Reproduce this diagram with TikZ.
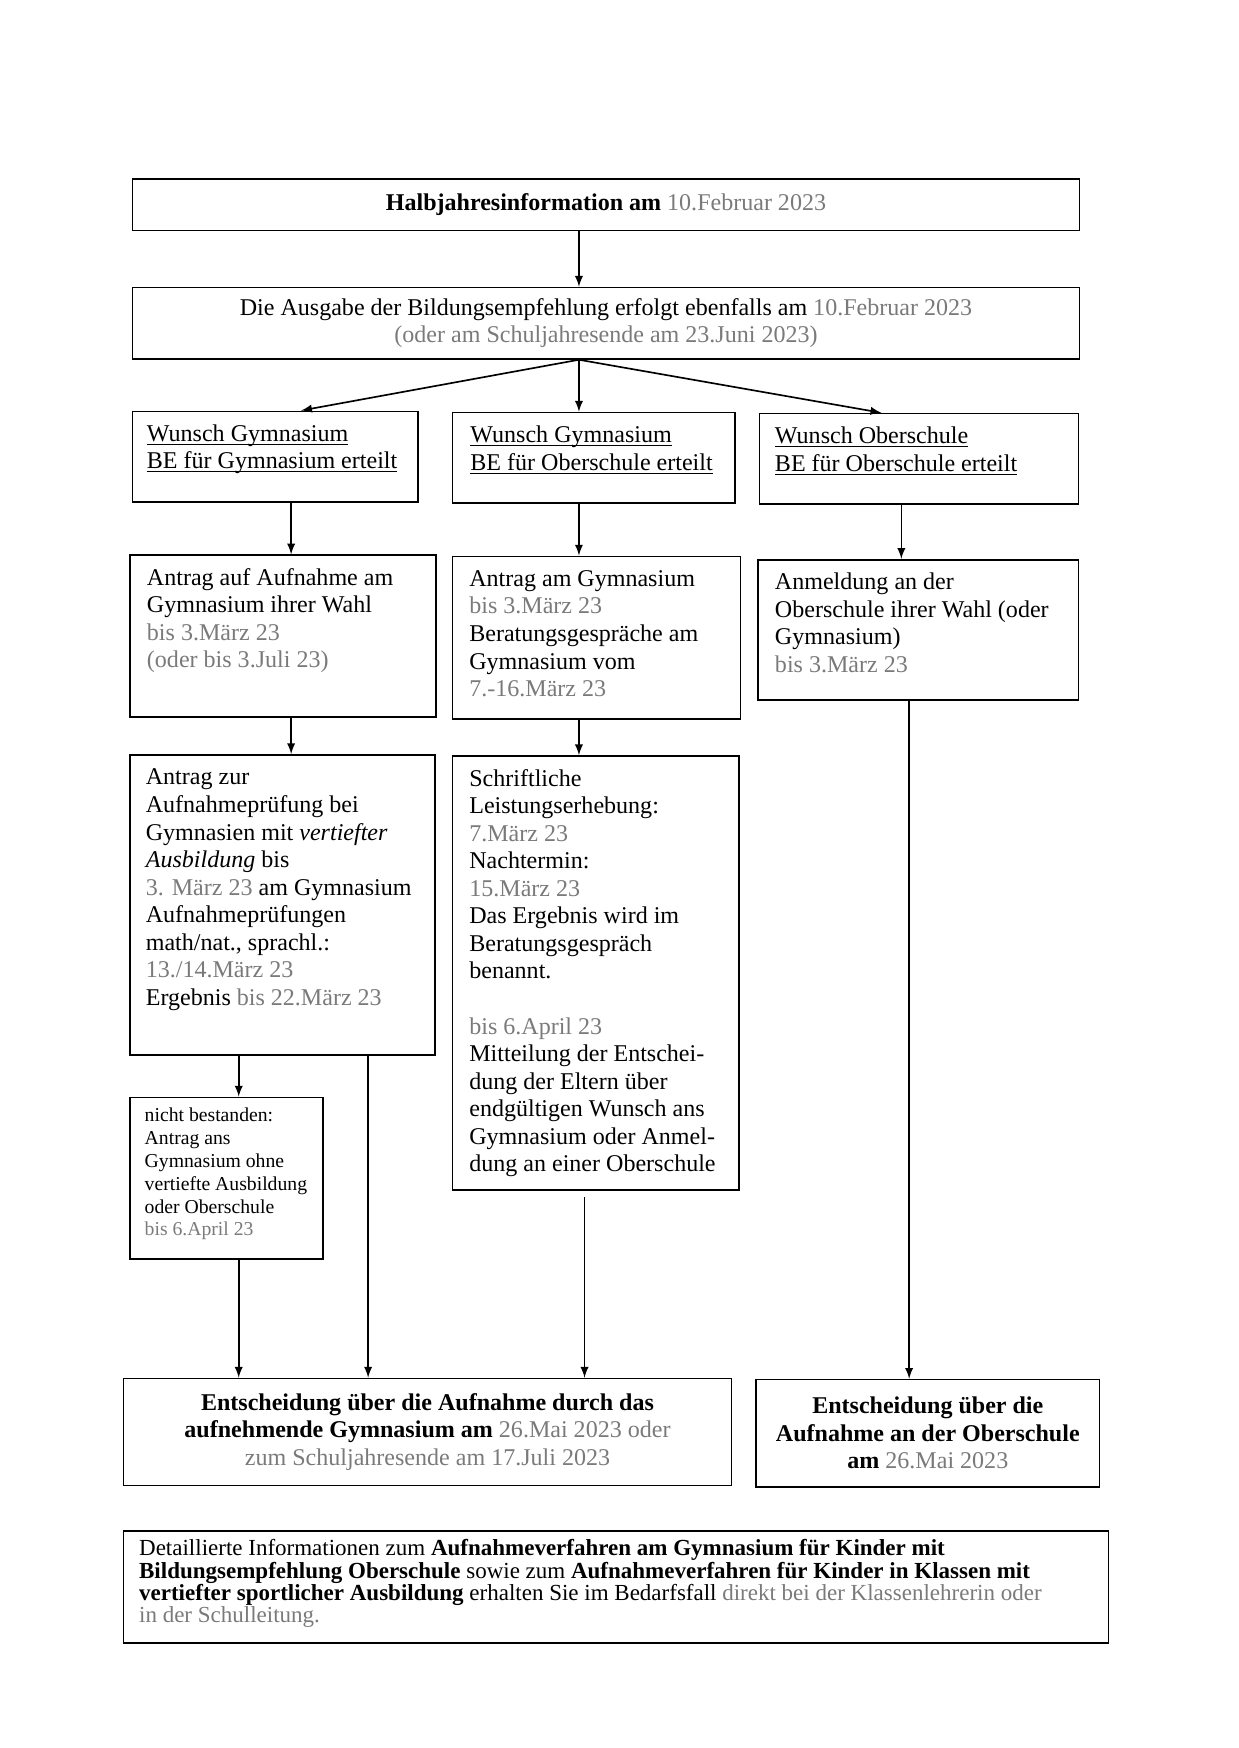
\documentclass[tikz,border=0pt]{standalone}
\usepackage{fontspec}
\setmainfont{Liberation Serif}
\usepackage{xcolor}
\usetikzlibrary{arrows}
\usetikzlibrary{positioning}
\definecolor{DateGray}{HTML}{7A7A7A}
\newlength\pxu
\setlength\pxu{0.018919cm}
\newcommand{\datum}[1]{\textcolor{DateGray}{#1}}
\newcommand{\ulwish}[1]{\underline{\smash{#1}}}
\newcommand{\boxbody}[5][14.5pt]{%
  \begin{minipage}[c][#3\pxu][t]{#2\pxu}\raggedright\leftskip=#4\pxu
  \rule{0pt}{#1}#5\end{minipage}}

\begin{document}
\begin{tikzpicture}[x=\pxu, y=-\pxu,
  flowbox/.style={draw, line width=0.8pt, inner sep=0pt, anchor=north west},
  flowarrow/.style={line width=0.8pt, -latex},
  every node/.style={font=\fontsize{11.6}{13.3}\selectfont}]
  \useasboundingbox (0,0) rectangle (1110,1567);

  \coordinate (colA) at (261,0);
  \coordinate (colB) at (519,0);
  \coordinate (colC) at (808,0);
  \coordinate (colD) at (815,0);
  \coordinate (colE) at (214,0);
  \coordinate (colF) at (330,0);
  \coordinate (colG) at (524,0);
  \coordinate (tipA) at (270,0);
  \coordinate (tipC) at (790,0);

  \node[flowbox, minimum width=849\pxu, minimum height=46\pxu, font=\fontsize{11.6}{13.3}\selectfont\bfseries]
    (halbjahr) at (118,160) {Halbjahresinformation am \datum{\mdseries 10.Februar 2023}};
  \node[flowbox, minimum width=849\pxu, minimum height=64\pxu, align=center]
    (ausgabe) at (118,257) {Die Ausgabe der Bildungsempfehlung erfolgt ebenfalls am \datum{10.Februar 2023}\\
    \datum{(oder am Schuljahresende am 23.Juni 2023)}};

  \node[flowbox] (wunschA) at (118,368) {\boxbody{256}{81}{13}{%
    \ulwish{Wunsch Gymnasium}\\ \ulwish{BE für Gymnasium erteilt}}};
  \node[flowbox] (wunschB) at (405,369) {\boxbody{253}{81}{16}{%
    \ulwish{Wunsch Gymnasium}\\ \ulwish{BE für Oberschule erteilt}}};
  \node[flowbox] (wunschC) at (680,370) {\boxbody{286}{81}{14}{%
    \ulwish{Wunsch Oberschule}\\ \ulwish{BE für Oberschule erteilt}}};

  \node[flowbox] (antragA) at (116,497) {\boxbody{274}{145}{15}{%
    Antrag auf Aufnahme am\\ Gymnasium ihrer Wahl\\ \datum{bis 3.März 23}\\
    \datum{(oder bis 3.Juli 23)}}};
  \node[flowbox] (antragB) at (405,498) {\boxbody{258}{146}{15}{%
    Antrag am Gymnasium\\ \datum{bis 3.März 23}\\ Beratungsgespräche am\\
    Gymnasium vom\\ \datum{7.-16.März 23}}};
  \node[flowbox] (anmeldC) at (679,501) {\boxbody{287}{126}{15}{%
    Anmeldung an der\\ Oberschule ihrer Wahl (oder\\ Gymnasium)\\ \datum{bis 3.März 23}}};

  \node[flowbox] (pruefA) at (116,676) {\boxbody{273}{269}{14}{%
    Antrag zur\\ Aufnahmeprüfung bei\\ Gymnasien mit \textit{vertiefter}\\
    \textit{Ausbildung} bis\\ \datum{3. März 23} am Gymnasium\\ Aufnahmeprüfungen\\
    math/nat., sprachl.:\\ \datum{13./14.März 23}\\ Ergebnis \datum{bis 22.März 23}}};
  \node[flowbox] (leistB) at (405,677) {\boxbody{257}{389}{15}{%
    Schriftliche\\ Leistungserhebung:\\ \datum{7.März 23}\\ Nachtermin:\\
    \datum{15.März 23}\\ Das Ergebnis wird im\\ Beratungsgespräch\\ benannt.\\[13.3pt]
    \datum{bis 6.April 23}\\ Mitteilung der Entschei-\\ dung der Eltern über\\
    endgültigen Wunsch ans\\ Gymnasium oder Anmel-\\ dung an einer Oberschule}};

  \node[flowbox, font=\fontsize{9.5}{11}\selectfont] (nichtA) at (116,983) {\boxbody[11.8pt]{173}{145}{13}{%
    nicht bestanden:\\ Antrag ans\\ Gymnasium ohne\\ vertiefte Ausbildung\\
    oder Oberschule\\ \datum{bis 6.April 23}}};

  \node[flowbox, minimum width=545\pxu, minimum height=96\pxu, align=center,
    font=\fontsize{11.6}{13.3}\selectfont\bfseries] (entschG) at (110,1235)
    {Entscheidung über die Aufnahme durch das\\
    aufnehmende Gymnasium am \datum{\mdseries 26.Mai 2023 oder}\\
    \datum{\mdseries zum Schuljahresende am 17.Juli 2023}};
  \node[flowbox, minimum width=308\pxu, minimum height=96\pxu, align=center,
    font=\fontsize{11.6}{13.3}\selectfont\bfseries] (entschO) at (677,1236)
    {Entscheidung über die\\ Aufnahme an der Oberschule\\ am \datum{\mdseries 26.Mai 2023}};

  \node[flowbox, font=\fontsize{11.1}{10.8}\selectfont] (hinweis) at (110,1372) {\boxbody[11.8pt]{883}{100}{14}{%
    Detaillierte Informationen zum \textbf{Aufnahmeverfahren am Gymnasium für Kinder mit}\\
    \textbf{Bildungsempfehlung Oberschule} sowie zum \textbf{Aufnahmeverfahren für Kinder in Klassen mit}\\
    \textbf{vertiefter sportlicher Ausbildung} erhalten Sie im Bedarfsfall \datum{direkt bei der Klassenlehrerin oder}\\
    \datum{in der Schulleitung.}}};

  \draw[flowarrow] (halbjahr.south -| colB) -- (ausgabe.north -| colB);
  \draw[flowarrow] (ausgabe.south -| colB) -- (wunschA.north -| tipA);
  \draw[flowarrow] (ausgabe.south -| colB) -- (wunschB.north -| colB);
  \draw[flowarrow] (ausgabe.south -| colB) -- (wunschC.north -| tipC);
  \draw[flowarrow] (wunschA.south -| colA) -- (antragA.north -| colA);
  \draw[flowarrow] (wunschB.south -| colB) -- (antragB.north -| colB);
  \draw[flowarrow] (wunschC.south -| colC) -- (anmeldC.north -| colC);
  \draw[flowarrow] (antragA.south -| colA) -- (pruefA.north -| colA);
  \draw[flowarrow] (antragB.south -| colB) -- (leistB.north -| colB);
  \draw[flowarrow] (pruefA.south -| colE) -- (nichtA.north -| colE);
  \draw[flowarrow] (nichtA.south -| colE) -- (entschG.north -| colE);
  \draw[flowarrow] (pruefA.south -| colF) -- (entschG.north -| colF);
  \draw[flowarrow, shorten <=6\pxu] (leistB.south -| colG) -- (entschG.north -| colG);
  \draw[flowarrow] (anmeldC.south -| colD) -- (entschO.north -| colD);
\end{tikzpicture}
\end{document}
